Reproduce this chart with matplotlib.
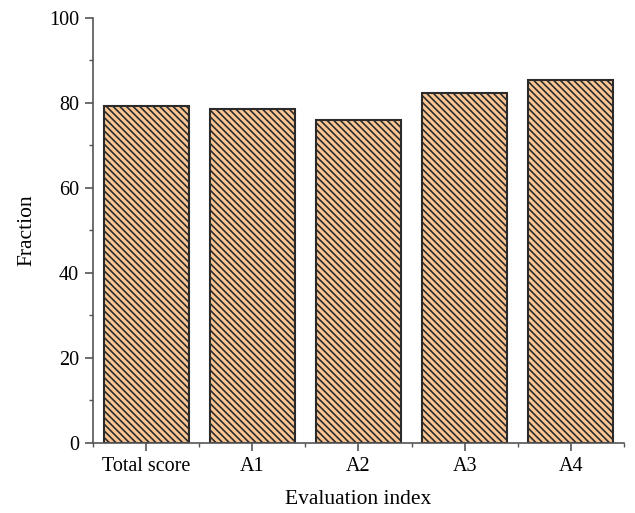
import matplotlib
matplotlib.use("Agg")
import matplotlib.pyplot as plt
from matplotlib.ticker import MultipleLocator, FixedLocator
import numpy as np

categories = ["Total score", "A1", "A2", "A3", "A4"]
values = [79.4, 78.5, 76.0, 82.3, 85.3]

plt.rcParams['font.family'] = ['Liberation Serif', 'DejaVu Serif']
plt.rcParams['hatch.linewidth'] = 1.2
plt.rcParams['hatch.color'] = '#3a3a3a'

fig = plt.figure(figsize=(6.35, 5.13), dpi=100)
ax = fig.add_axes([0.1465, 0.1365, 0.836, 0.8285])

x = np.arange(len(categories))
ax.bar(x, values, width=0.8, color='#fcc795', edgecolor='#2b2b2b',
       linewidth=1.5, hatch='\\\\\\\\\\')

ax.set_xlim(-0.5, len(categories) - 0.5)
ax.set_ylim(0, 100)
ax.set_xticks(x)
ax.set_xticklabels(categories)
ax.xaxis.set_minor_locator(FixedLocator(np.arange(-0.5, len(categories), 1.0)))
ax.yaxis.set_major_locator(MultipleLocator(20))
ax.yaxis.set_minor_locator(MultipleLocator(10))

for s in ['top', 'right']:
    ax.spines[s].set_visible(False)
for s in ['left', 'bottom']:
    ax.spines[s].set_color('#555555')
    ax.spines[s].set_linewidth(1.2)

ax.tick_params(axis='both', which='major', direction='out', length=6, width=1.2,
               color='#555555', labelsize=14.5, pad=4)
ax.tick_params(axis='both', which='minor', direction='out', length=3, width=1.0,
               color='#555555')

ax.set_xlabel("Evaluation index", fontsize=15.5, labelpad=10)
ax.set_ylabel("Fraction", fontsize=15.5, labelpad=9)

fig.savefig("out.png", dpi=100)
